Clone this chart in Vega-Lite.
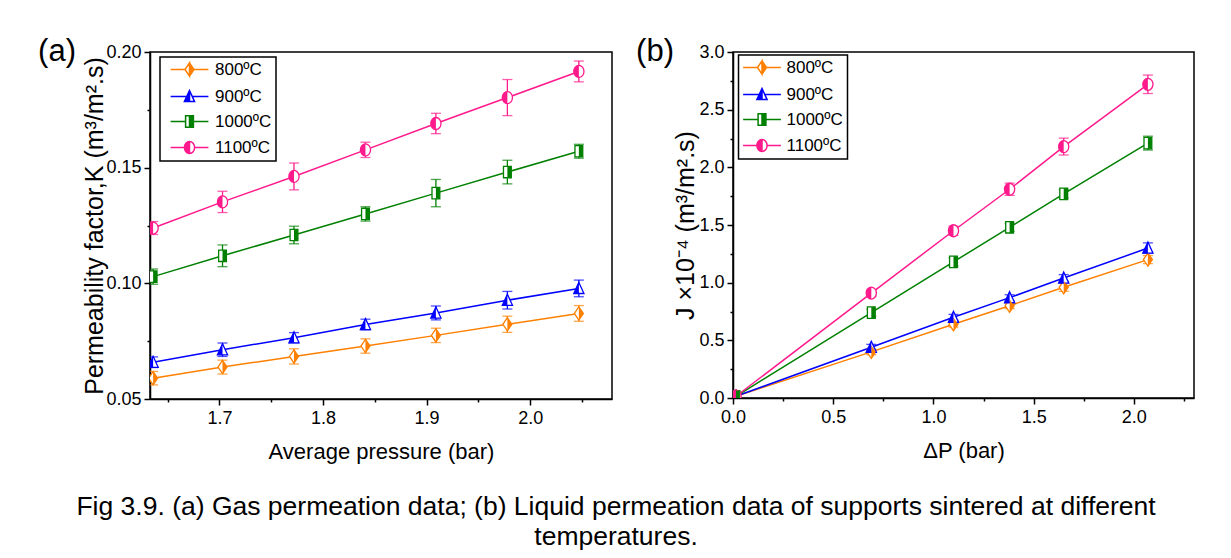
{
  "$schema": "https://vega.github.io/schema/vega-lite/v6.json",
  "background": "white",
  "padding": {"left": 37, "top": 35, "right": 40, "bottom": 5},
  "spacing": 22,
  "config": {
    "view": {"stroke": "black", "strokeWidth": 1.5},
    "axis": {
      "domainColor": "black", "domainWidth": 1.5, "tickColor": "black", "tickWidth": 1.5,
      "labelFont": "Liberation Sans", "labelFontSize": 18, "labelColor": "black", "labelPadding": 3,
      "titleFont": "Liberation Sans", "titleFontSize": 22, "titleFontWeight": "normal", "titleColor": "black",
      "grid": false, "labelFlush": false, "labelOverlap": false
    },
    "axisX": {"labelPadding": 4, "titlePadding": 14},
    "axisY": {"titleFont": "Liberation Sans", "titleFontSize": 25, "titlePadding": 0}
  },
  "resolve": {"scale": {"color": "independent", "shape": "independent"}, "legend": {"color": "independent"}},
  "title": {
    "text": ["Fig 3.9. (a) Gas permeation data; (b) Liquid permeation data of supports sintered at different", "temperatures."],
    "orient": "bottom", "anchor": "middle", "font": "Liberation Sans", "fontSize": 26.5, "fontWeight": "normal",
    "color": "black", "lineHeight": 30, "offset": 31
  },
  "hconcat": [
    {
      "width": 462, "height": 347,
      "title": {"text": "(a)", "orient": "left", "anchor": "end", "frame": "group", "angle": 0, "align": "left", "baseline": "middle", "offset": 7, "fontSize": 31, "font": "Liberation Sans", "fontWeight": "normal", "color": "black"},
      "data": {"values": [
        {"s": "800ºC", "x": 1.636, "y": 0.059, "e": 0.0029},
        {"s": "800ºC", "x": 1.703, "y": 0.0638, "e": 0.003},
        {"s": "800ºC", "x": 1.772, "y": 0.0684, "e": 0.0033},
        {"s": "800ºC", "x": 1.841, "y": 0.0729, "e": 0.0031},
        {"s": "800ºC", "x": 1.909, "y": 0.0775, "e": 0.0031},
        {"s": "800ºC", "x": 1.978, "y": 0.0823, "e": 0.0035},
        {"s": "800ºC", "x": 2.047, "y": 0.087, "e": 0.0034},
        {"s": "900ºC", "x": 1.636, "y": 0.0659, "e": 0.0023},
        {"s": "900ºC", "x": 1.703, "y": 0.0713, "e": 0.0029},
        {"s": "900ºC", "x": 1.772, "y": 0.0765, "e": 0.0022},
        {"s": "900ºC", "x": 1.841, "y": 0.0822, "e": 0.0023},
        {"s": "900ºC", "x": 1.909, "y": 0.0872, "e": 0.003},
        {"s": "900ºC", "x": 1.978, "y": 0.0927, "e": 0.0038},
        {"s": "900ºC", "x": 2.047, "y": 0.0978, "e": 0.0036},
        {"s": "1000ºC", "x": 1.636, "y": 0.1029, "e": 0.0033},
        {"s": "1000ºC", "x": 1.703, "y": 0.1119, "e": 0.0047},
        {"s": "1000ºC", "x": 1.772, "y": 0.1209, "e": 0.0038},
        {"s": "1000ºC", "x": 1.841, "y": 0.13, "e": 0.0031},
        {"s": "1000ºC", "x": 1.909, "y": 0.139, "e": 0.0059},
        {"s": "1000ºC", "x": 1.978, "y": 0.1481, "e": 0.0051},
        {"s": "1000ºC", "x": 2.047, "y": 0.1571, "e": 0.003},
        {"s": "1100ºC", "x": 1.636, "y": 0.1239, "e": 0.0028},
        {"s": "1100ºC", "x": 1.703, "y": 0.1352, "e": 0.0046},
        {"s": "1100ºC", "x": 1.772, "y": 0.1462, "e": 0.0058},
        {"s": "1100ºC", "x": 1.841, "y": 0.1577, "e": 0.0033},
        {"s": "1100ºC", "x": 1.909, "y": 0.1691, "e": 0.0044},
        {"s": "1100ºC", "x": 1.978, "y": 0.1803, "e": 0.0078},
        {"s": "1100ºC", "x": 2.047, "y": 0.1916, "e": 0.0045}
      ]},
      "encoding": {
        "x": {"field": "x", "type": "quantitative",
          "scale": {"domain": [1.633, 2.079], "nice": false, "zero": false},
          "axis": {"title": "Average pressure (bar)", "values": [1.65, 1.7, 1.75, 1.8, 1.85, 1.9, 1.95, 2.0, 2.05],
            "labelExpr": "abs(datum.value*10 - round(datum.value*10)) < 0.001 ? format(datum.value, '.1f') : ''",
            "tickSize": {"condition": {"test": "abs(datum.value*10 - round(datum.value*10)) < 0.001", "value": 6}, "value": 3}}},
        "y": {"field": "y", "type": "quantitative",
          "scale": {"domain": [0.05, 0.2], "nice": false, "zero": false},
          "axis": {"title": "Permeability factor,K (m³/m².s)", "titlePadding": -2, "values": [0.05, 0.075, 0.1, 0.125, 0.15, 0.175, 0.2],
            "labelExpr": "abs(datum.value*20 - round(datum.value*20)) < 0.001 ? format(datum.value, '.2f') : ''",
            "tickSize": {"condition": {"test": "abs(datum.value*20 - round(datum.value*20)) < 0.001", "value": 6}, "value": 3}}}
      },
      "resolve": {"scale": {"shape": "independent"}},
      "layer": [
        {
          "mark": {"type": "line", "strokeWidth": 1.5, "clip": true},
          "encoding": {
            "color": {"field": "s", "type": "nominal",
              "scale": {"domain": ["800ºC", "900ºC", "1000ºC", "1100ºC"], "range": ["#FF8000", "#0000FF", "#008000", "#FF1A8C"]},
              "legend": {"title": null, "orient": "none", "legendX": 10, "legendY": 5,
                "strokeColor": "black", "fillColor": "white", "padding": 4, "rowPadding": 7,
                "symbolSize": 144, "symbolStrokeWidth": 1.5, "symbolOffset": 17, "labelOffset": 17,
                "labelFont": "Liberation Sans", "labelFontSize": 17, "labelColor": "black",
                "encode": {
                  "legend": {"update": {"strokeWidth": {"value": 1.5}}},
                  "symbols": {"update": {
                    "shape": {"signal": "datum.value == '800ºC' ? 'M-3.15,0H-0.75M0.75,0H3.15M0,-1.1L0.75,0L0,1.1L-0.75,0ZM0,-1.1L-0.75,0L0,1.1Z' : datum.value == '900ºC' ? 'M-3.15,0H-0.45M0.45,0H3.15M0,-1L0.85,0.85L-0.85,0.85ZM0,-1L0,0.85L0.85,0.85Z' : datum.value == '1000ºC' ? 'M-3.15,0H-0.65M0.65,0H3.15M-0.65,-0.95H0.65V0.95H-0.65ZM-0.65,-0.95V0.95H0V-0.95Z' : 'M-3.15,0H-0.85M0.85,0H3.15M0,-1A0.85,1 0 1,1 0,1A0.85,1 0 1,1 0,-1ZM0,-1L0,1A0.85,1 0 0,0 0,-1Z'"},
                    "fill": {"signal": "datum.value == '800ºC' ? '#FF8000' : datum.value == '900ºC' ? '#0000FF' : datum.value == '1000ºC' ? '#008000' : '#FF1A8C'"},
                    "stroke": {"signal": "datum.value == '800ºC' ? '#FF8000' : datum.value == '900ºC' ? '#0000FF' : datum.value == '1000ºC' ? '#008000' : '#FF1A8C'"},
                    "strokeWidth": {"value": 1.5},
                    "opacity": {"value": 1}
                  }}
                }
              }
            }
          }
        },
        {
          "mark": {"type": "errorbar", "ticks": {"size": 10}, "thickness": 1.3, "clip": true},
          "encoding": {
            "yError": {"field": "e"},
            "color": {"field": "s", "type": "nominal", "legend": null,
              "scale": {"domain": ["800ºC", "900ºC", "1000ºC", "1100ºC"], "range": ["#FF8000", "#0000FF", "#008000", "#FF1A8C"]}}
          }
        },
        {
          "mark": {"type": "point", "filled": false, "fill": "white", "fillOpacity": 1, "opacity": 1, "size": 144, "strokeWidth": 1.3, "clip": true},
          "encoding": {
            "color": {"field": "s", "type": "nominal", "legend": null,
              "scale": {"domain": ["800ºC", "900ºC", "1000ºC", "1100ºC"], "range": ["#FF8000", "#0000FF", "#008000", "#FF1A8C"]}},
            "shape": {"field": "s", "type": "nominal", "legend": null,
              "scale": {"domain": ["800ºC", "900ºC", "1000ºC", "1100ºC"],
                "range": ["M0,-1.1L0.75,0L0,1.1L-0.75,0Z", "M0,-1L0.85,0.85L-0.85,0.85Z", "M-0.65,-0.95H0.65V0.95H-0.65Z", "M0,-1A0.85,1 0 1,1 0,1A0.85,1 0 1,1 0,-1Z"]}}
          }
        },
        {
          "mark": {"type": "point", "filled": true, "opacity": 1, "size": 144, "strokeWidth": 0, "clip": true},
          "encoding": {
            "color": {"field": "s", "type": "nominal", "legend": null,
              "scale": {"domain": ["800ºC", "900ºC", "1000ºC", "1100ºC"], "range": ["#FF8000", "#0000FF", "#008000", "#FF1A8C"]}},
            "shape": {"field": "s", "type": "nominal", "legend": null,
              "scale": {"domain": ["800ºC", "900ºC", "1000ºC", "1100ºC"],
                "range": ["M0,-1.1L0.75,0L0,1.1Z", "M0,-1L0,0.85L-0.85,0.85Z", "M0,-0.95H0.65V0.95H0Z", "M0,-1A0.85,1 0 0,0 0,1Z"]}}
          }
        }
      ]
    },
    {
      "width": 461, "height": 346,
      "title": {"text": "(b)", "orient": "left", "anchor": "end", "frame": "group", "angle": 0, "align": "left", "baseline": "middle", "offset": 0, "fontSize": 31, "font": "Liberation Sans", "fontWeight": "normal", "color": "black"},
      "data": {"values": [
        {"s": "800ºC", "x": 0.015, "y": 0.015, "e": 0},
        {"s": "800ºC", "x": 0.69, "y": 0.40, "e": 0.025},
        {"s": "800ºC", "x": 1.10, "y": 0.64, "e": 0.025},
        {"s": "800ºC", "x": 1.38, "y": 0.80, "e": 0.025},
        {"s": "800ºC", "x": 1.65, "y": 0.96, "e": 0.035},
        {"s": "800ºC", "x": 2.07, "y": 1.20, "e": 0.035},
        {"s": "900ºC", "x": 0.015, "y": 0.015, "e": 0},
        {"s": "900ºC", "x": 0.69, "y": 0.44, "e": 0.025},
        {"s": "900ºC", "x": 1.10, "y": 0.70, "e": 0.025},
        {"s": "900ºC", "x": 1.38, "y": 0.87, "e": 0.025},
        {"s": "900ºC", "x": 1.65, "y": 1.04, "e": 0.03},
        {"s": "900ºC", "x": 2.07, "y": 1.30, "e": 0.045},
        {"s": "1000ºC", "x": 0.015, "y": 0.015, "e": 0},
        {"s": "1000ºC", "x": 0.69, "y": 0.74, "e": 0.03},
        {"s": "1000ºC", "x": 1.10, "y": 1.18, "e": 0.035},
        {"s": "1000ºC", "x": 1.38, "y": 1.48, "e": 0.035},
        {"s": "1000ºC", "x": 1.65, "y": 1.77, "e": 0.037},
        {"s": "1000ºC", "x": 2.07, "y": 2.21, "e": 0.06},
        {"s": "1100ºC", "x": 0.015, "y": 0.015, "e": 0},
        {"s": "1100ºC", "x": 0.69, "y": 0.91, "e": 0.03},
        {"s": "1100ºC", "x": 1.10, "y": 1.45, "e": 0.04},
        {"s": "1100ºC", "x": 1.38, "y": 1.81, "e": 0.053},
        {"s": "1100ºC", "x": 1.65, "y": 2.18, "e": 0.073},
        {"s": "1100ºC", "x": 2.07, "y": 2.72, "e": 0.08}
      ]},
      "encoding": {
        "x": {"field": "x", "type": "quantitative",
          "scale": {"domain": [0, 2.3], "nice": false, "zero": false},
          "axis": {"title": "ΔP (bar)", "values": [0, 0.25, 0.5, 0.75, 1, 1.25, 1.5, 1.75, 2, 2.25],
            "labelExpr": "abs(datum.value*2 - round(datum.value*2)) < 0.001 ? format(datum.value, '.1f') : ''",
            "tickSize": {"condition": {"test": "abs(datum.value*2 - round(datum.value*2)) < 0.001", "value": 6}, "value": 3}}},
        "y": {"field": "y", "type": "quantitative",
          "scale": {"domain": [0, 3], "nice": false, "zero": false},
          "axis": {"title": "J ×10⁻⁴ (m³/m².s)", "titlePadding": 0, "values": [0, 0.25, 0.5, 0.75, 1, 1.25, 1.5, 1.75, 2, 2.25, 2.5, 2.75, 3],
            "labelExpr": "abs(datum.value*2 - round(datum.value*2)) < 0.001 ? format(datum.value, '.1f') : ''",
            "tickSize": {"condition": {"test": "abs(datum.value*2 - round(datum.value*2)) < 0.001", "value": 6}, "value": 3}}}
      },
      "resolve": {"scale": {"shape": "independent"}},
      "layer": [
        {
          "mark": {"type": "line", "strokeWidth": 1.5, "clip": true},
          "encoding": {
            "color": {"field": "s", "type": "nominal",
              "scale": {"domain": ["800ºC", "900ºC", "1000ºC", "1100ºC"], "range": ["#FF8000", "#0000FF", "#008000", "#FF1A8C"]},
              "legend": {"title": null, "orient": "none", "legendX": 5.5, "legendY": 3,
                "strokeColor": "black", "fillColor": "white", "padding": 4, "rowPadding": 7,
                "symbolSize": 144, "symbolStrokeWidth": 1.5, "symbolOffset": 11, "labelOffset": 16,
                "labelFont": "Liberation Sans", "labelFontSize": 17, "labelColor": "black",
                "encode": {
                  "legend": {"update": {"strokeWidth": {"value": 1.5}}},
                  "symbols": {"update": {
                    "shape": {"signal": "datum.value == '800ºC' ? 'M-3.15,0H-0.75M0.75,0H3.15M0,-1.1L0.75,0L0,1.1L-0.75,0ZM0,-1.1L-0.75,0L0,1.1Z' : datum.value == '900ºC' ? 'M-3.15,0H-0.45M0.45,0H3.15M0,-1L0.85,0.85L-0.85,0.85ZM0,-1L0,0.85L0.85,0.85Z' : datum.value == '1000ºC' ? 'M-3.15,0H-0.65M0.65,0H3.15M-0.65,-0.95H0.65V0.95H-0.65ZM-0.65,-0.95V0.95H0V-0.95Z' : 'M-3.15,0H-0.85M0.85,0H3.15M0,-1A0.85,1 0 1,1 0,1A0.85,1 0 1,1 0,-1ZM0,-1L0,1A0.85,1 0 0,0 0,-1Z'"},
                    "fill": {"signal": "datum.value == '800ºC' ? '#FF8000' : datum.value == '900ºC' ? '#0000FF' : datum.value == '1000ºC' ? '#008000' : '#FF1A8C'"},
                    "stroke": {"signal": "datum.value == '800ºC' ? '#FF8000' : datum.value == '900ºC' ? '#0000FF' : datum.value == '1000ºC' ? '#008000' : '#FF1A8C'"},
                    "strokeWidth": {"value": 1.5},
                    "opacity": {"value": 1}
                  }}
                }
              }
            }
          }
        },
        {
          "mark": {"type": "errorbar", "ticks": {"size": 10}, "thickness": 1.3, "clip": true},
          "encoding": {
            "yError": {"field": "e"},
            "color": {"field": "s", "type": "nominal", "legend": null,
              "scale": {"domain": ["800ºC", "900ºC", "1000ºC", "1100ºC"], "range": ["#FF8000", "#0000FF", "#008000", "#FF1A8C"]}}
          }
        },
        {
          "mark": {"type": "point", "filled": false, "fill": "white", "fillOpacity": 1, "opacity": 1, "size": 144, "strokeWidth": 1.3, "clip": true},
          "encoding": {
            "color": {"field": "s", "type": "nominal", "legend": null,
              "scale": {"domain": ["800ºC", "900ºC", "1000ºC", "1100ºC"], "range": ["#FF8000", "#0000FF", "#008000", "#FF1A8C"]}},
            "shape": {"field": "s", "type": "nominal", "legend": null,
              "scale": {"domain": ["800ºC", "900ºC", "1000ºC", "1100ºC"],
                "range": ["M0,-1.1L0.75,0L0,1.1L-0.75,0Z", "M0,-1L0.85,0.85L-0.85,0.85Z", "M-0.65,-0.95H0.65V0.95H-0.65Z", "M0,-1A0.85,1 0 1,1 0,1A0.85,1 0 1,1 0,-1Z"]}}
          }
        },
        {
          "mark": {"type": "point", "filled": true, "opacity": 1, "size": 144, "strokeWidth": 0, "clip": true},
          "encoding": {
            "color": {"field": "s", "type": "nominal", "legend": null,
              "scale": {"domain": ["800ºC", "900ºC", "1000ºC", "1100ºC"], "range": ["#FF8000", "#0000FF", "#008000", "#FF1A8C"]}},
            "shape": {"field": "s", "type": "nominal", "legend": null,
              "scale": {"domain": ["800ºC", "900ºC", "1000ºC", "1100ºC"],
                "range": ["M0,-1.1L0.75,0L0,1.1Z", "M0,-1L0,0.85L-0.85,0.85Z", "M0,-0.95H0.65V0.95H0Z", "M0,-1A0.85,1 0 0,0 0,1Z"]}}
          }
        }
      ]
    }
  ]
}
